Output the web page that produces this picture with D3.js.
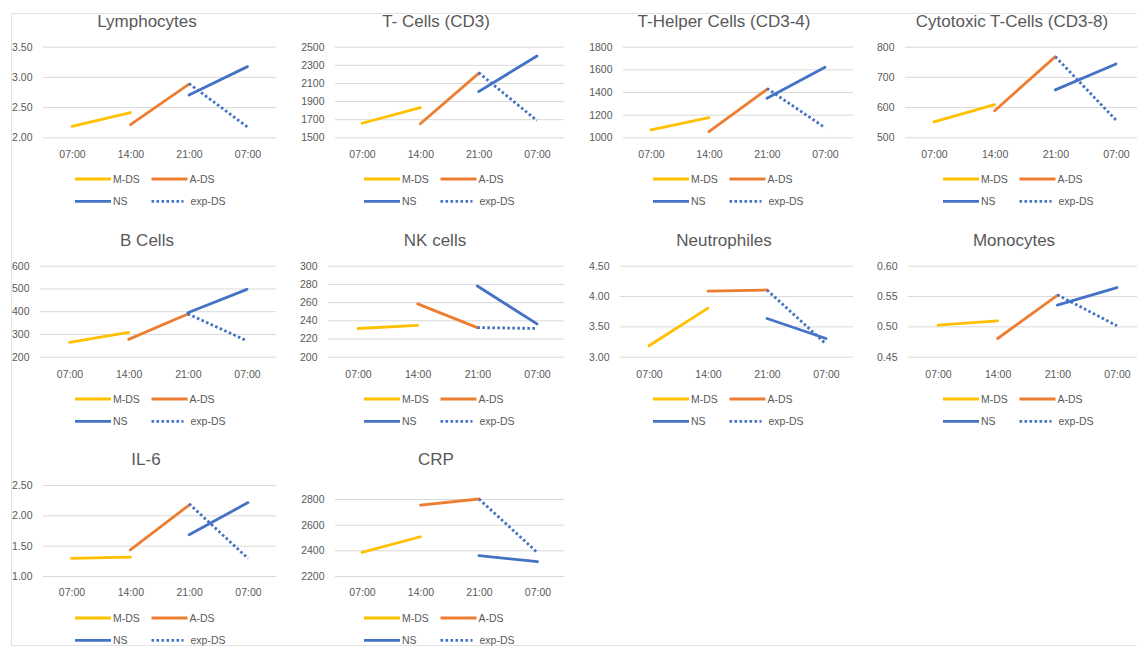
<!DOCTYPE html>
<html>
<head>
<meta charset="utf-8">
<script src="https://cdn.jsdelivr.net/npm/d3@7"></script>
<style>
  html, body { margin: 0; padding: 0; background: #fff; }
  svg { display: block; font-family: "Liberation Sans", Arial, sans-serif; }
</style>
</head>
<body>
<svg id="chart" width="1137" height="646"></svg>
<script>
// ---------------- data ----------------
const categories = ["07:00", "14:00", "21:00", "07:00"];
const panelTitles = ["Lymphocytes", "T- Cells (CD3)", "T-Helper Cells (CD3-4)", "Cytotoxic T-Cells (CD3-8)",
                     "B Cells", "NK cells", "Neutrophiles", "Monocytes", "IL-6", "CRP"];
const seriesNames = ["M-DS", "A-DS", "NS", "exp-DS"];
// each series spans two consecutive time points
const mdsIdx = [0, 1];
const adsIdx = [1, 2];
const nsIdx = [2, 3];
const expIdx = [2, 3];
const mdsValues = [[2.18, 2.41], [1655, 1827], [1065, 1174], [551, 608], [263, 307],
                   [231, 234.4], [3.18, 3.80], [0.502, 0.509], [1.29, 1.31], [2384, 2506]];
const adsValues = [[2.21, 2.88], [1650, 2206], [1050, 1424], [588, 767], [276, 388],
                   [258, 232], [4.08, 4.10], [0.480, 0.551], [1.43, 2.17], [2753, 2800]];
const nsValues = [[2.70, 3.17], [2004, 2397], [1344, 1618], [657, 743], [393, 496],
                  [277.7, 236], [3.63, 3.30], [0.535, 0.564], [1.68, 2.21], [2358, 2312]];
const expValues = [[2.89, 2.17], [2213, 1684], [1432, 1085], [767, 557], [388, 270],
                   [232, 231], [4.10, 3.21], [0.552, 0.501], [2.19, 1.29], [2800, 2382]];
const yTicks = [
  [2.0, 2.5, 3.0, 3.5],
  [1500, 1700, 1900, 2100, 2300, 2500],
  [1000, 1200, 1400, 1600, 1800],
  [500, 600, 700, 800],
  [200, 300, 400, 500, 600],
  [200, 220, 240, 260, 280, 300],
  [3.0, 3.5, 4.0, 4.5],
  [0.45, 0.50, 0.55, 0.60],
  [1.0, 1.5, 2.0, 2.5],
  [2200, 2400, 2600, 2800]
];
const yTickFormats = [".2f", "d", "d", "d", "d", "d", ".2f", ".2f", ".2f", "d"];

// ---------------- layout (positions only) ----------------
const layout = [
  {gx0: 43,  gx1: 276,  cx0: 72,    cx3: 247.5, yTop: 46.7,  yBot: 137.3, tx: 147,  ty: 26.5, xl: 158, lx: 75,  ly: 179},
  {gx0: 335, gx1: 564,  cx0: 362,   cx3: 537,   yTop: 46.7,  yBot: 137.3, tx: 436,  ty: 26.5, xl: 158, lx: 364, ly: 179},
  {gx0: 623, gx1: 853,  cx0: 651,   cx3: 825,   yTop: 46.7,  yBot: 137.3, tx: 724,  ty: 26.5, xl: 158, lx: 653, ly: 179},
  {gx0: 905, gx1: 1150, cx0: 934,   cx3: 1116,  yTop: 46.7,  yBot: 137.3, tx: 1012, ty: 26.5, xl: 158, lx: 943, ly: 179},
  {gx0: 40,  gx1: 276,  cx0: 69.5,  cx3: 247,   yTop: 265.7, yBot: 356.7, tx: 147,  ty: 245.5, xl: 378, lx: 75,  ly: 399},
  {gx0: 328, gx1: 564,  cx0: 358,   cx3: 537,   yTop: 265.7, yBot: 356.7, tx: 435,  ty: 245.5, xl: 378, lx: 364, ly: 399},
  {gx0: 620, gx1: 853,  cx0: 649,   cx3: 826,   yTop: 265.7, yBot: 356.7, tx: 724,  ty: 245.5, xl: 378, lx: 653, ly: 399},
  {gx0: 908, gx1: 1150, cx0: 938,   cx3: 1117,  yTop: 265.7, yBot: 356.7, tx: 1014, ty: 245.5, xl: 378, lx: 943, ly: 399},
  {gx0: 43,  gx1: 276,  cx0: 71.5,  cx3: 248,   yTop: 485,   yBot: 576,   tx: 146,  ty: 464.5, xl: 596, lx: 75,  ly: 618},
  {gx0: 335, gx1: 564,  cx0: 362,   cx3: 537.5, yTop: 499,   yBot: 576,   tx: 436,  ty: 465,   xl: 596, lx: 364, ly: 618}
];

const colors = {"M-DS": "#FFC000", "A-DS": "#ED7D31", "NS": "#4472C4", "exp-DS": "#4472C4"};
const textColor = "#595959";
const gridColor = "#D9D9D9";
const lineW = 2.8;

const svg = d3.select("#chart");
svg.append("rect").attr("x", 0).attr("y", 0).attr("width", 1137).attr("height", 646).attr("fill", "#fff");
svg.append("rect").attr("x", 11.5).attr("y", 13.5).attr("width", 1140).attr("height", 632)
   .attr("fill", "none").attr("stroke", "#E3E3E3").attr("stroke-width", 1);

const seriesDefs = [
  {name: "M-DS", idx: mdsIdx, vals: mdsValues, dotted: false},
  {name: "A-DS", idx: adsIdx, vals: adsValues, dotted: false},
  {name: "NS", idx: nsIdx, vals: nsValues, dotted: false},
  {name: "exp-DS", idx: expIdx, vals: expValues, dotted: true}
];

panelTitles.forEach((title, p) => {
  const L = layout[p];
  const g = svg.append("g");
  const ticks = yTicks[p];
  const y = d3.scaleLinear().domain([d3.min(ticks), d3.max(ticks)]).range([L.yBot, L.yTop]);
  const x = d3.scalePoint().domain([0, 1, 2, 3]).range([L.cx0, L.cx3]);

  // title
  g.append("text").attr("x", L.tx).attr("y", L.ty).attr("text-anchor", "middle")
    .attr("fill", textColor).style("font-size", "17px").text(title);

  // y axis with gridlines
  const yAxis = d3.axisLeft(y).tickValues(ticks).tickFormat(d3.format(yTickFormats[p]))
    .tickSize(-(L.gx1 - L.gx0)).tickPadding(10.5);
  const ya = g.append("g").attr("transform", `translate(${L.gx0},0)`).call(yAxis);
  ya.select(".domain").remove();
  ya.selectAll(".tick line").attr("stroke", gridColor).attr("stroke-width", 1);
  ya.selectAll(".tick text").attr("fill", textColor).style("font-size", "10.5px")
    .style("font-family", "'Liberation Sans', Arial, sans-serif");

  // x axis labels
  const xAxis = d3.axisBottom(x).tickFormat(i => categories[i]).tickSize(0).tickPadding(0);
  const xa = g.append("g").attr("transform", `translate(0,${L.xl})`).call(xAxis);
  xa.select(".domain").remove();
  xa.selectAll(".tick text").attr("y", 0).attr("dy", 0).attr("fill", textColor)
    .style("font-size", "10.5px").style("font-family", "'Liberation Sans', Arial, sans-serif");

  // series lines
  const line = d3.line().x(d => x(d.i)).y(d => y(d.v));
  seriesDefs.forEach(s => {
    const pts = s.idx.map((ci, k) => ({i: ci, v: s.vals[p][k]}));
    const path = g.append("path").datum(pts).attr("d", line)
      .attr("fill", "none").attr("stroke", colors[s.name]).attr("stroke-width", lineW);
    if (s.dotted) path.attr("stroke-dasharray", "2.6,2.4").attr("stroke-linecap", "butt");
    else path.attr("stroke-linecap", "round");
  });

  // legend (2 x 2)
  seriesDefs.forEach((s, k) => {
    const col = k % 2, row = Math.floor(k / 2);
    const lx = L.lx + col * 76.5;
    const ly = L.ly + row * 22.3;
    const seg = g.append("line").attr("x1", lx).attr("x2", s.dotted ? lx + 32 : lx + 36)
      .attr("y1", ly).attr("y2", ly).attr("stroke", colors[s.name]).attr("stroke-width", lineW);
    if (s.dotted) seg.attr("stroke-dasharray", "2.6,2.4");
    g.append("text").attr("x", s.dotted ? lx + 39 : lx + 38).attr("y", ly).attr("dy", "0.35em")
      .attr("fill", textColor).style("font-size", "10.5px").text(s.name);
  });
});
</script>
</body>
</html>
